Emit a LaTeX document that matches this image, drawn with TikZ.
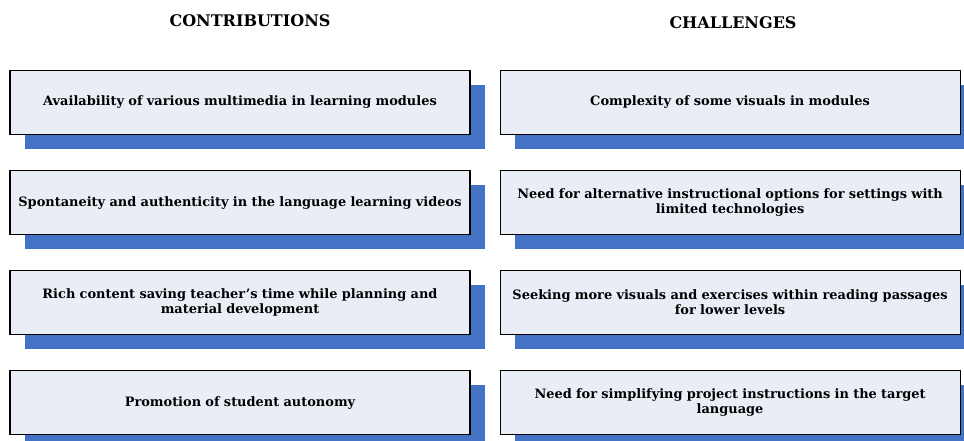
\documentclass[tikz,border=0pt]{standalone}
\usepackage{fontspec}
\setmainfont{DejaVu Serif}
\usetikzlibrary{positioning,shadows}
\definecolor{shadowblue}{HTML}{4472C4}
\definecolor{boxfill}{HTML}{E9EDF6}
\begin{document}
\begin{tikzpicture}[
  x=0.75pt,y=-0.75pt,
  node distance=26.25pt and 21.75pt,
  item/.style={draw,line width=0.8pt,fill=boxfill,align=center,
    minimum width=345pt,minimum height=48pt,text width=336pt,
    font=\fontsize{9.7}{11.3}\selectfont\bfseries,
    drop shadow={shadow xshift=11pt,shadow yshift=-11pt,fill=shadowblue,opacity=1}},
  heading/.style={font=\fontsize{12}{14}\selectfont\bfseries}
]
\useasboundingbox (0,0) rectangle (964,440);
\node[heading] (conhead) at (250,21) {CONTRIBUTIONS};
\node[heading] (chahead) at (733,23) {CHALLENGES};
% contributions
\node[item] (con1) at (240,102.5) {Availability of various multimedia in learning modules};
\node[item,below=of con1] (con2) {Spontaneity and authenticity in the language learning videos};
\node[item,below=of con2] (con3) {Rich content saving teacher's time while planning and\\material development};
\node[item,below=of con3] (con4) {Promotion of student autonomy};
% challenges
\node[item,right=of con1] (cha1) {Complexity of some visuals in modules};
\node[item,right=of con2] (cha2) {Need for alternative instructional options for settings with\\limited technologies};
\node[item,right=of con3] (cha3) {Seeking more visuals and exercises within reading passages\\for lower levels};
\node[item,right=of con4] (cha4) {Need for simplifying project instructions in the target\\language};
\end{tikzpicture}
\end{document}
